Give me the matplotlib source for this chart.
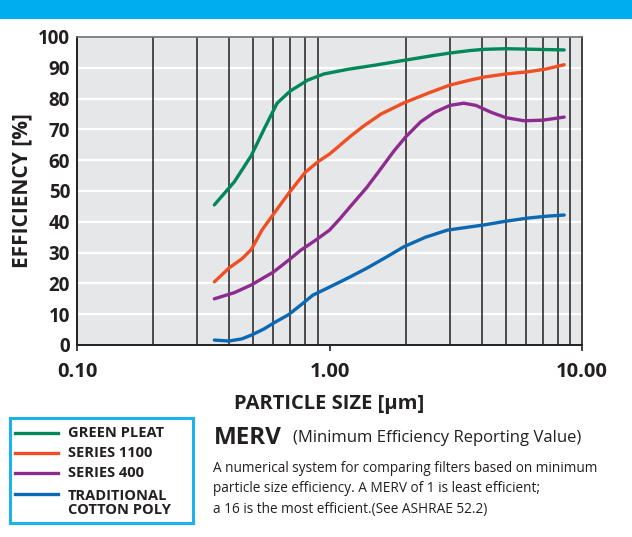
import matplotlib
matplotlib.use("Agg")
import matplotlib.pyplot as plt
from matplotlib.patches import Rectangle
from matplotlib.lines import Line2D

plt.rcParams['font.family'] = ['Open Sans', 'DejaVu Sans']

# values (particle size in um, efficiency in %)
green_x = [0.35, 0.42, 0.49, 0.55, 0.62, 0.70, 0.82, 0.95, 1.18, 1.5, 2.0, 2.5, 3.0, 3.6, 4.1, 5.0, 6.5, 8.5]
green_y = [45.5, 53, 61.5, 70, 78.5, 82.5, 86, 88, 89.5, 90.8, 92.5, 93.8, 94.8, 95.6, 96, 96.2, 96, 95.8]

s1100_x = [0.35, 0.40, 0.45, 0.49, 0.54, 0.60, 0.69, 0.80, 0.90, 1.0, 1.08, 1.2, 1.36, 1.6, 1.97, 2.5, 3.0, 3.6, 4.1, 5.0, 6.1, 7.2, 8.5]
s1100_y = [20.5, 25, 28, 31, 37.3, 42.5, 49.3, 56, 59.5, 62, 64.3, 67.5, 71, 75, 78.6, 82, 84.4, 86, 87, 88, 88.7, 89.6, 91]

s400_x = [0.35, 0.42, 0.49, 0.60, 0.69, 0.77, 0.88, 1.0, 1.1, 1.21, 1.4, 1.55, 1.8, 2.0, 2.3, 2.6, 3.0, 3.4, 3.8, 4.35, 5.0, 5.9, 7.0, 8.5]
s400_y = [15, 17, 19.5, 23.7, 27.6, 30.8, 34, 37.3, 41, 45, 51, 55.8, 63, 67.5, 72.5, 75.5, 77.8, 78.5, 77.8, 75.6, 73.8, 72.8, 73, 74]

poly_x = [0.35, 0.40, 0.45, 0.49, 0.55, 0.60, 0.69, 0.77, 0.86, 1.0, 1.2, 1.41, 1.7, 1.97, 2.4, 2.93, 3.5, 4.1, 5.0, 6.1, 7.2, 8.5]
poly_y = [1.6, 1.3, 2, 3.2, 5.2, 7.1, 9.9, 13, 16.2, 18.8, 22, 25, 28.8, 31.9, 35, 37.3, 38.2, 39, 40.2, 41.2, 41.8, 42.2]

series = [
    ("GREEN PLEAT", green_x, green_y, "#00875a"),
    ("SERIES 1100", s1100_x, s1100_y, "#f04e23"),
    ("SERIES 400", s400_x, s400_y, "#8e2b8f"),
    ("TRADITIONAL\nCOTTON POLY", poly_x, poly_y, "#0b68b3"),
]

y_ticks = list(range(0, 101, 10))
x_ticks = [0.1, 1, 10]
x_labels = ["0.10", "1.00", "10.00"]
minor_x = [0.2, 0.3, 0.4, 0.5, 0.6, 0.7, 0.8, 0.9, 2, 3, 4, 5, 6, 7, 8, 9]

fig = plt.figure(figsize=(6.32, 5.37), dpi=100)
fig.patch.set_facecolor("white")

# blue band on top
fig.add_artist(Rectangle((0, 1 - 19 / 537), 1, 19 / 537, transform=fig.transFigure,
                         facecolor="#00aeef", edgecolor="none"))

ax = fig.add_axes([77 / 632, 1 - 345 / 537, 505 / 632, 308 / 537])
ax.set_facecolor("#e6e7e8")
ax.set_xscale("log")
ax.set_xlim(0.1, 10)
ax.set_ylim(0, 100)

for y in y_ticks[1:]:
    ax.axhline(y, color="white", lw=1.6, zorder=1)
for x in minor_x:
    ax.axvline(x, color="#231f20", lw=1.1, zorder=2)

for name, xs, ys, c in series:
    ax.plot(xs, ys, color=c, lw=2.4, solid_capstyle="round", solid_joinstyle="round", zorder=3)

ax.set_yticks(y_ticks)
ax.set_yticklabels([str(v) for v in y_ticks], fontsize=13.5, fontweight="bold", color="#231f20")
ax.set_xticks(x_ticks)
ax.set_xticklabels(x_labels, fontsize=14.5, fontweight="bold", color="#231f20")
ax.xaxis.set_minor_locator(matplotlib.ticker.NullLocator())
ax.tick_params(axis="y", length=0, pad=5)
ax.tick_params(axis="x", length=4, width=1.2, color="#231f20", pad=8)

for s in ["left", "bottom"]:
    ax.spines[s].set_color("#231f20")
    ax.spines[s].set_linewidth(1.4)
ax.spines["top"].set_color("#6d6e71")
ax.spines["top"].set_linewidth(1.2)
ax.spines["right"].set_color("#231f20")
ax.spines["right"].set_linewidth(1.2)

ax.set_xlabel("PARTICLE SIZE [µm]", fontsize=14.5, fontweight="bold", color="#231f20", labelpad=9)
ax.set_ylabel("EFFICIENCY [%]", fontsize=15, fontweight="bold", color="#231f20", labelpad=4)

# legend box drawn by hand
fig.add_artist(Rectangle((10 / 632, 1 - 523 / 537), 183 / 632, 105 / 537, transform=fig.transFigure,
                         facecolor="white", edgecolor="#1cb3ec", lw=2.2))
leg_y = [433, 453, 473, 494]
for (name, xs, ys, c), yy in zip(series, leg_y):
    fy = 1 - yy / 537
    fig.add_artist(Line2D([15 / 632, 58 / 632], [fy, fy], transform=fig.transFigure, color=c, lw=2.4))
    va_y = fy if "\n" not in name else 1 - 502.5 / 537
    fig.text(68 / 632, va_y, name, fontsize=10.5, fontweight="bold", color="#231f20",
             va="center", ha="left", linespacing=1.0)

fig.text(214 / 632, 1 - 438 / 537, "MERV", fontsize=17.5, fontweight="bold", color="#231f20", va="center")
fig.text(293 / 632, 1 - 438 / 537, "(Minimum Efficiency Reporting Value)", fontsize=12,
         color="#231f20", va="center")
para = ["A numerical system for comparing filters based on minimum",
        "particle size efficiency. A MERV of 1 is least efficient;",
        "a 16 is the most efficient.(See ASHRAE 52.2)"]
for i, line in enumerate(para):
    fig.text(213 / 632, 1 - (469 + 20 * i) / 537, line, fontsize=9.8, color="#231f20", va="center")

fig.savefig("out.png", dpi=100)
